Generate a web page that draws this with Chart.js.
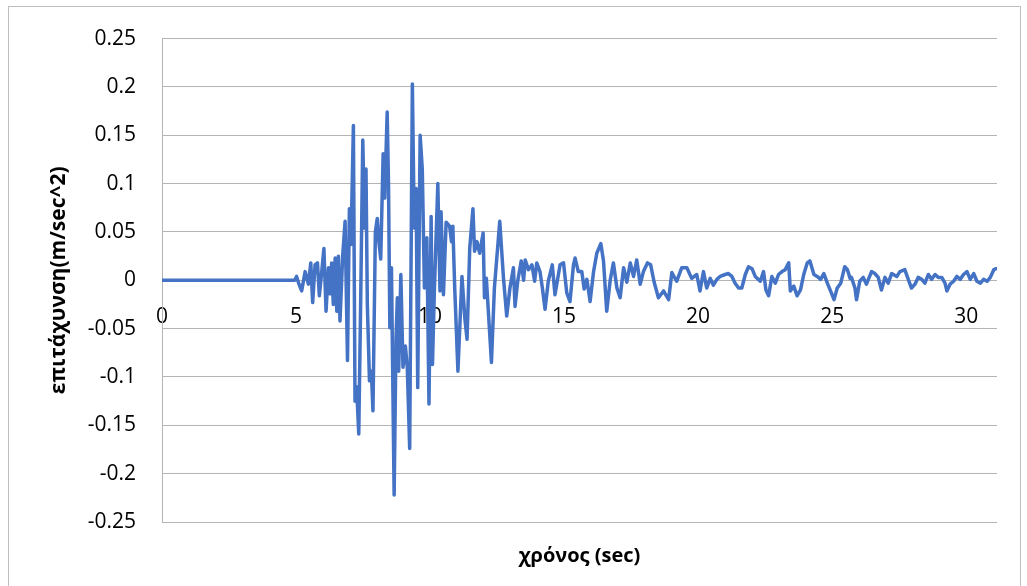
<!DOCTYPE html>
<html>
<head>
<meta charset="utf-8">
<script src="https://cdn.jsdelivr.net/npm/chart.js@4.4.1/dist/chart.umd.min.js"></script>
<style>
  html, body { margin: 0; padding: 0; background: #ffffff; }
  #wrap { position: relative; width: 1027px; height: 586px; overflow: hidden; }
  #frame { position: absolute; left: 8px; top: 6px; width: 1013px; height: 600px; border: 1px solid #bfbfbf; box-sizing: border-box; }
  #c { position: absolute; left: 0; top: 0; }
</style>
</head>
<body>
<div id="wrap">
  <div id="frame"></div>
  <canvas id="c" width="1027" height="586"></canvas>
</div>
<script>
// ---- data ----
const times = [
  0, 4.95, 5.02, 5.11, 5.21, 5.34, 5.46, 5.55, 5.62, 5.71, 5.80, 5.87, 5.96, 6.04, 6.12, 6.21, 6.27, 6.33, 6.39, 6.46,
  6.52, 6.58, 6.64, 6.74, 6.83, 6.92, 6.99, 7.05, 7.14, 7.20, 7.26, 7.34, 7.41, 7.49, 7.56, 7.61, 7.66, 7.74, 7.81, 7.87,
  7.96, 8.03, 8.09, 8.16, 8.25, 8.31, 8.40, 8.45, 8.50, 8.56, 8.66, 8.73, 8.78, 8.83, 8.91, 8.99, 9.08, 9.15, 9.24, 9.34,
  9.41, 9.48, 9.54, 9.63, 9.71, 9.79, 9.88, 9.96, 10.04, 10.09, 10.16, 10.29, 10.37, 10.41, 10.50, 10.60, 10.73, 10.80, 10.85, 10.92,
  11.04, 11.19, 11.30, 11.38, 11.48, 11.60, 11.66, 11.75, 11.85, 11.98, 12.03, 12.10, 12.29, 12.40, 12.60, 12.74, 12.86, 12.98, 13.11, 13.17,
  13.27, 13.40, 13.49, 13.55, 13.67, 13.80, 13.90, 13.98, 14.10, 14.19, 14.29, 14.41, 14.56, 14.66, 14.85, 14.98, 15.10, 15.22, 15.35, 15.41,
  15.53, 15.66, 15.75, 15.85, 15.97, 16.10, 16.22, 16.37, 16.47, 16.59, 16.72, 16.84, 16.97, 17.09, 17.22, 17.34, 17.47, 17.59, 17.71, 17.84,
  17.96, 18.11, 18.23, 18.36, 18.52, 18.71, 18.90, 19.02, 19.20, 19.39, 19.58, 19.76, 19.95, 20.07, 20.20, 20.32, 20.45, 20.57, 20.70, 20.82,
  21.01, 21.13, 21.26, 21.38, 21.51, 21.63, 21.76, 21.88, 22.01, 22.13, 22.32, 22.44, 22.53, 22.63, 22.75, 22.88, 23.00, 23.13, 23.25, 23.38,
  23.44, 23.57, 23.69, 23.82, 23.94, 24.07, 24.17, 24.32, 24.44, 24.57, 24.69, 24.82, 24.94, 25.07, 25.19, 25.32, 25.47, 25.57, 25.67, 25.72,
  25.85, 25.91, 26.03, 26.16, 26.28, 26.47, 26.59, 26.72, 26.84, 26.97, 27.09, 27.22, 27.41, 27.53, 27.71, 27.84, 27.96, 28.09, 28.21, 28.34,
  28.46, 28.59, 28.71, 28.84, 28.96, 29.09, 29.21, 29.28, 29.40, 29.53, 29.65, 29.78, 29.90, 30.03, 30.15, 30.28, 30.40, 30.53, 30.65, 30.78,
  30.90, 31.03, 31.12
];
const accel = [
  0, 0, 0.004, -0.004, -0.011, 0.009, -0.004, 0.018, -0.023, 0.016, 0.018, -0.016, 0.009, 0.033, -0.032, 0.013, -0.014, 0.018, -0.025, 0.023,
  -0.032, 0.025, -0.042, 0.025, 0.061, -0.083, 0.074, 0.037, 0.160, -0.125, -0.110, -0.159, -0.025, 0.145, 0.054, 0.115, -0.025, -0.104, -0.094, -0.135,
  0.050, 0.064, 0.040, 0.022, 0.131, 0.085, 0.174, 0.100, -0.049, 0.013, -0.222, -0.060, -0.018, -0.094, 0.006, -0.090, -0.068, -0.090, -0.174, 0.203,
  0.054, 0.095, -0.111, 0.150, 0.115, -0.008, 0.044, -0.128, 0.066, -0.087, -0.011, 0.100, -0.011, 0.071, -0.015, 0.060, 0.056, 0.040, 0.056, -0.008,
  -0.094, 0.004, -0.040, -0.061, 0.033, 0.074, 0.030, 0.040, 0.028, 0.049, -0.018, 0.002, -0.085, -0.008, 0.061, 0.002, -0.037, -0.008, 0.013, -0.027,
  -0.001, 0.020, 0.000, 0.021, 0.011, 0.016, -0.001, 0.018, 0.009, -0.008, -0.030, -0.001, 0.016, -0.015, 0.016, 0.018, -0.013, -0.022, 0.016, 0.023,
  0.009, 0.009, -0.009, 0.001, -0.022, 0.009, 0.028, 0.038, 0.020, -0.032, 0.000, 0.018, -0.008, -0.018, 0.013, -0.002, 0.018, 0.004, 0.021, -0.004,
  0.009, 0.018, 0.016, -0.002, -0.018, -0.011, -0.020, 0.008, -0.001, 0.013, 0.013, 0.002, 0.006, -0.011, 0.009, -0.008, 0.002, -0.005, 0.001, 0.004,
  0.006, 0.007, 0.004, -0.003, -0.008, -0.008, 0.006, 0.014, 0.012, 0.004, -0.001, 0.009, -0.010, -0.016, 0.004, -0.003, 0.006, 0.009, 0.011, 0.018,
  -0.011, -0.006, -0.016, -0.010, 0.006, 0.018, 0.020, 0.006, 0.004, 0.001, 0.007, -0.003, -0.011, -0.020, -0.008, -0.003, 0.014, 0.011, 0.002, 0.003,
  -0.008, -0.020, -0.001, 0.003, -0.004, 0.009, 0.007, 0.003, -0.010, 0.003, -0.003, 0.007, 0.004, 0.009, 0.011, 0.001, -0.008, -0.004, 0.003, 0.001,
  -0.003, 0.006, 0.001, 0.006, 0.003, 0.003, -0.003, -0.011, -0.004, -0.001, 0.004, 0.001, 0.006, 0.009, 0.001, 0.007, -0.001, -0.003, 0.001, -0.001,
  0.003, 0.011, 0.012
];
const xTickValues = [0, 5, 10, 15, 20, 25, 30];
const xTickLabels = ["0", "5", "10", "15", "20", "25", "30"];
const yTickValues = [-0.25, -0.2, -0.15, -0.1, -0.05, 0, 0.05, 0.1, 0.15, 0.2, 0.25];
const yTickLabels = ["-0.25", "-0.2", "-0.15", "-0.1", "-0.05", "0", "0.05", "0.1", "0.15", "0.2", "0.25"];
const xTitle = "χρόνος (sec)";
const yTitle = "επιτάχυνση(m/sec^2)";

const points = times.map((t, i) => ({ x: t, y: accel[i] }));
const FONT = "'Open Sans', 'DejaVu Sans', sans-serif";

new Chart(document.getElementById('c'), {
  type: 'line',
  data: {
    datasets: [{
      data: points,
      borderColor: '#4472C4',
      borderWidth: 3.5,
      borderJoinStyle: 'round',
      borderCapStyle: 'round',
      pointRadius: 0,
      tension: 0,
      fill: false
    }]
  },
  options: {
    responsive: false,
    devicePixelRatio: 1,
    animation: false,
    layout: { padding: { left: 0, right: 30, top: 36, bottom: 0 } },
    plugins: {
      legend: { display: false },
      tooltip: { enabled: false },
      title: {
        display: true,
        text: xTitle,
        position: 'bottom',
        fullSize: false,
        color: '#000000',
        font: { family: FONT, size: 20, weight: 'bold' },
        padding: { top: 22, bottom: 18 }
      }
    },
    scales: {
      x: {
        type: 'linear',
        min: 0,
        max: 31.15,
        position: { y: 0 },
        grid: { display: false, drawTicks: false },
        border: { display: false },
        afterBuildTicks: (scale) => { scale.ticks = xTickValues.map(v => ({ value: v })); },
        ticks: {
          autoSkip: false,
          maxRotation: 0,
          padding: 24,
          color: '#000000',
          font: { family: FONT, size: 21 },
          callback: (v, i) => xTickLabels[i]
        }
      },
      y: {
        type: 'linear',
        min: -0.25,
        max: 0.25,
        grid: { color: '#b4b4b4', lineWidth: 1, drawTicks: false },
        border: { display: true, color: '#b4b4b4', width: 1 },
        afterBuildTicks: (scale) => { scale.ticks = yTickValues.map(v => ({ value: v })); },
        afterFit: (scale) => { scale.width = 162; },
        ticks: {
          padding: 26,
          color: '#000000',
          font: { family: FONT, size: 21 },
          callback: (v, i) => yTickLabels[i]
        },
        title: {
          display: true,
          text: yTitle,
          color: '#000000',
          font: { family: FONT, size: 21, weight: 'bold' },
          padding: { top: 46, bottom: 0 }
        }
      }
    }
  }
});
</script>
</body>
</html>
